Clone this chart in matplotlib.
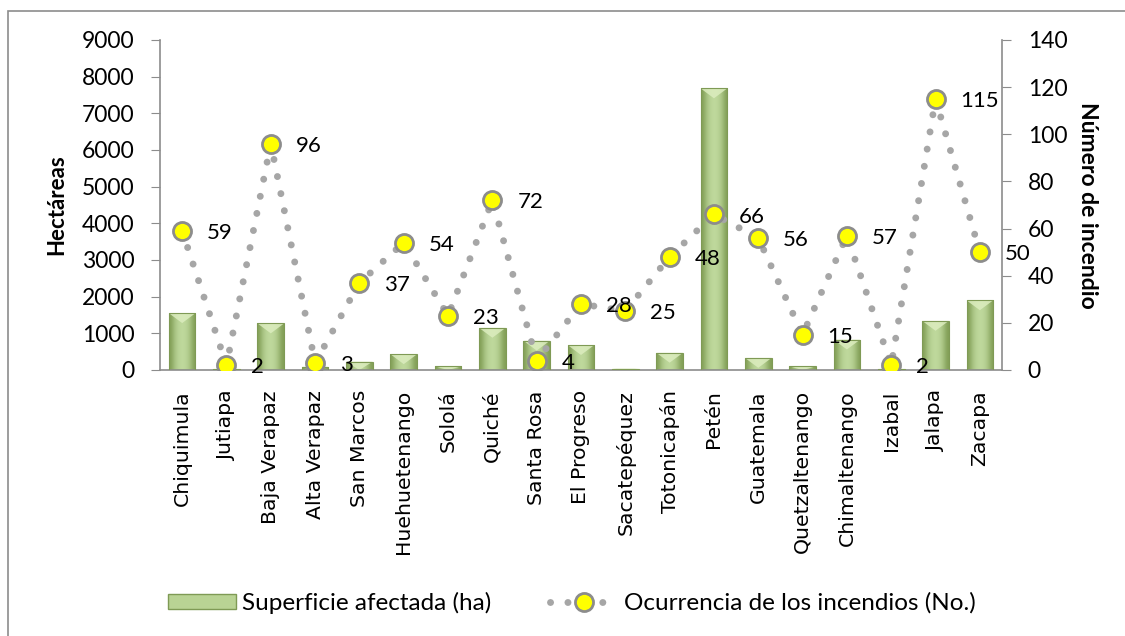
import numpy as np
import matplotlib.pyplot as plt
from matplotlib.lines import Line2D
from matplotlib.patches import Rectangle, Polygon
from matplotlib.colors import LinearSegmentedColormap

departamentos = ['Chiquimula', 'Jutiapa', 'Baja Verapaz', 'Alta Verapaz', 'San Marcos',
                 'Huehuetenango', 'Sololá', 'Quiché', 'Santa Rosa', 'El Progreso',
                 'Sacatepéquez', 'Totonicapán', 'Petén', 'Guatemala', 'Quetzaltenango',
                 'Chimaltenango', 'Izabal', 'Jalapa', 'Zacapa']
superficie = [1550, 20, 1270, 90, 230, 430, 100, 1150, 800, 680,
              40, 470, 7680, 330, 100, 830, 15, 1340, 1900]
ocurrencia = [59, 2, 96, 3, 37, 54, 23, 72, 4, 28, 25, 48, 66, 56, 15, 57, 2, 115, 50]

W, H = 1125, 636
fig = plt.figure(figsize=(W / 100, H / 100), dpi=100)
fig.patches.append(Rectangle((8 / W, -0.1), 1.2, 1.1 - 11 / H, transform=fig.transFigure,
                             fill=False, edgecolor='#8c8c8c', linewidth=1.2))

ax = fig.add_axes([160 / W, 1 - 370 / H, (1002 - 160) / W, 330 / H])
x = np.arange(len(departamentos))

# bars with a horizontal gradient and a light bevel on top, like excel
bars = ax.bar(x, superficie, width=0.6, color='none', edgecolor='#7f9a55', linewidth=0.8, zorder=3)
grad = np.array([[0.0, 0.6, 0.9, 1.0, 0.9, 0.6, 0.0]])
cmap = LinearSegmentedColormap.from_list('g', ['#83a058', '#c0da9e'])
for b in bars:
    x0, y0, w, h = b.get_x(), b.get_y(), b.get_width(), b.get_height()
    im = ax.imshow(grad, extent=(x0, x0 + w, y0, y0 + h),
                   cmap=cmap, aspect='auto', zorder=2, interpolation='bicubic')
    im.set_clip_path(b)
    d = min(h, 270)
    ax.add_patch(Polygon([(x0, h), (x0 + w, h), (x0 + w / 2, h - d)], closed=True,
                         facecolor='#dcedbf', edgecolor='none', alpha=0.85, zorder=2.5))

ax.set_xlim(-0.5, len(departamentos) - 0.5)
ax.set_ylim(0, 9000)
ax.set_yticks(range(0, 9001, 1000))
ax.set_xticks(x)
ax.set_xticklabels(departamentos, rotation=90, fontsize=14.7, family='DejaVu Sans')
ax.tick_params(axis='x', length=0, pad=14.5)
ax.tick_params(axis='y', labelsize=16.5, length=6.5, color='#8c8c8c', pad=12)
for lab in ax.get_yticklabels():
    lab.set_family('Lato')
ax.spines['top'].set_visible(False)
ax.spines['right'].set_visible(False)
for s in ['left', 'bottom']:
    ax.spines[s].set_color('#8c8c8c')
    ax.spines[s].set_linewidth(1.2)
ax.set_ylabel('Hectáreas', fontsize=16, fontweight='bold', family='Lato')
ax.yaxis.set_label_coords((67 - 160) / (1002 - 160), 0.5)

ax2 = ax.twinx()
ax2.set_ylim(0, 140)
ax2.set_yticks(range(0, 141, 20))
ax2.tick_params(axis='y', labelsize=16.5, length=6.5, color='#8c8c8c', pad=12)
for lab in ax2.get_yticklabels():
    lab.set_family('Lato')
for s in ['top', 'left', 'bottom']:
    ax2.spines[s].set_visible(False)
ax2.spines['right'].set_color('#8c8c8c')
ax2.spines['right'].set_linewidth(1.2)
ax2.plot(x, ocurrencia, color='#a6a6a6', linewidth=5, linestyle=(0, (0.01, 2.5)),
         dash_capstyle='round', zorder=3)
ax2.plot(x, ocurrencia, linestyle='none', marker='o', markersize=13,
         markerfacecolor='#ffff00', markeredgecolor='#8c8c8c', markeredgewidth=2, zorder=4)
for xi, v in zip(x, ocurrencia):
    ax2.annotate(str(v), (xi, v), xytext=(18, -1.5), textcoords='offset points',
                 ha='left', va='center', fontsize=16, family='Lato', zorder=5)
ax2.set_ylabel('Número de incendio', fontsize=16.5, fontweight='bold', family='Lato',
               rotation=-90, va='center')
ax2.yaxis.set_label_coords((1087 - 160) / (1002 - 160), 0.5)

h1 = Rectangle((0, 0), 1, 1, facecolor='#b9d394', edgecolor='#7f9a55')
h2 = Line2D([], [], color='#a6a6a6', linewidth=5, linestyle=(0, (0.01, 2.5)),
            dash_capstyle='round', marker='o', markersize=13,
            markerfacecolor='#ffff00', markeredgecolor='#8c8c8c', markeredgewidth=2)
fig.legend([h1, h2], ['Superficie afectada (ha)', 'Ocurrencia de los incendios (No.)'],
           loc='center', bbox_to_anchor=(572 / W, 1 - 603 / H), ncol=2, frameon=False,
           prop={'family': 'Lato', 'size': 17.5}, handlelength=2.8, handleheight=0.6,
           handletextpad=0.25, columnspacing=2.4)

fig.savefig('out.png', dpi=100)
